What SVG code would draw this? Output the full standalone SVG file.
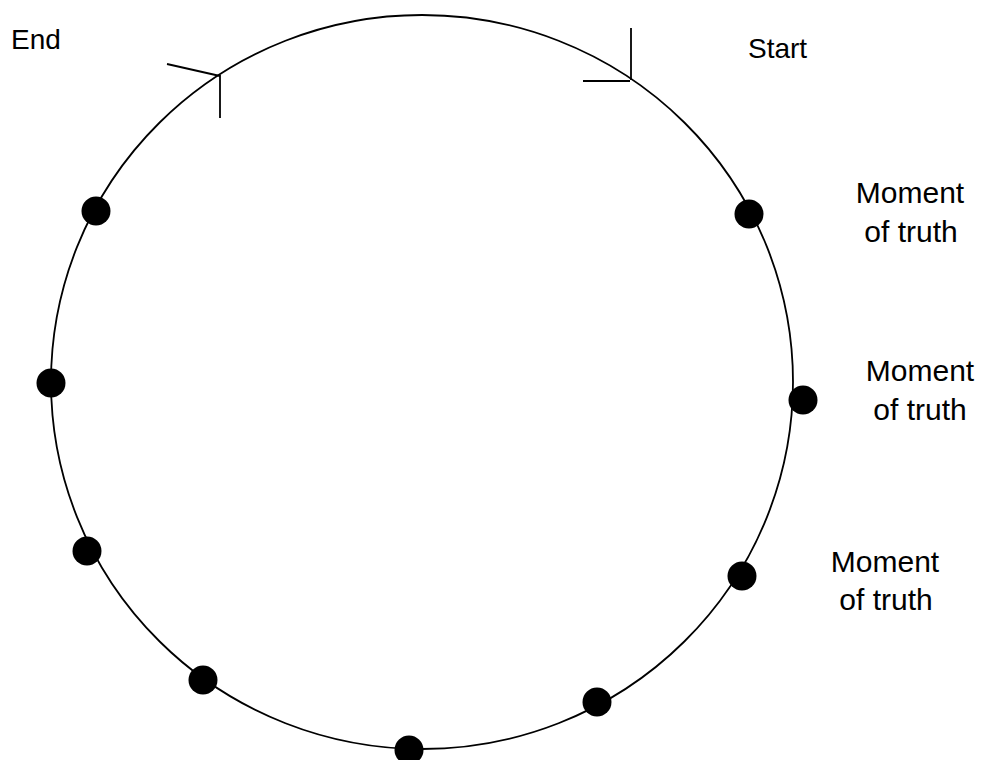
<svg xmlns="http://www.w3.org/2000/svg" width="983" height="760" viewBox="0 0 983 760">
<style>
.ln{fill:none;stroke:#000;stroke-width:1.8}
.dot{fill:#000}
.t{font-family:"Liberation Sans",Arial,sans-serif;font-size:28px;fill:#000}
.m{font-size:30px;text-anchor:middle}
</style>
<rect width="983" height="760" fill="#fff"/>
<g id="connectors">
<ellipse class="ln" cx="422" cy="382" rx="371" ry="367"/>
<line class="ln" x1="631" y1="28" x2="631" y2="80"/>
<line class="ln" x1="583" y1="81" x2="630" y2="81"/>
<line class="ln" x1="220" y1="75" x2="220" y2="118"/>
<line class="ln" x1="167" y1="64" x2="220" y2="76"/>
</g>
<g id="start"><text class="t" x="748" y="58">Start</text></g>
<g id="end"><text class="t" x="11" y="49">End</text></g>
<g id="p1"><circle class="dot" cx="749" cy="214" r="14.5"/></g>
<g id="p2"><circle class="dot" cx="803" cy="400" r="14.5"/></g>
<g id="p3"><circle class="dot" cx="742" cy="576" r="14.5"/></g>
<g id="p4"><circle class="dot" cx="597" cy="702" r="14.5"/></g>
<g id="p5"><circle class="dot" cx="409" cy="750" r="14.5"/></g>
<g id="p6"><circle class="dot" cx="203" cy="680" r="14.5"/></g>
<g id="p7"><circle class="dot" cx="87" cy="551" r="14.5"/></g>
<g id="p8"><circle class="dot" cx="51" cy="383" r="14.5"/></g>
<g id="p9"><circle class="dot" cx="96" cy="211" r="14.5"/></g>
<g id="label1"><text class="t m" x="910" y="203">Moment</text><text class="t m" x="911" y="242">of truth</text></g>
<g id="label2"><text class="t m" x="920" y="381">Moment</text><text class="t m" x="920" y="420">of truth</text></g>
<g id="label3"><text class="t m" x="885" y="572">Moment</text><text class="t m" x="886" y="610">of truth</text></g>
</svg>
